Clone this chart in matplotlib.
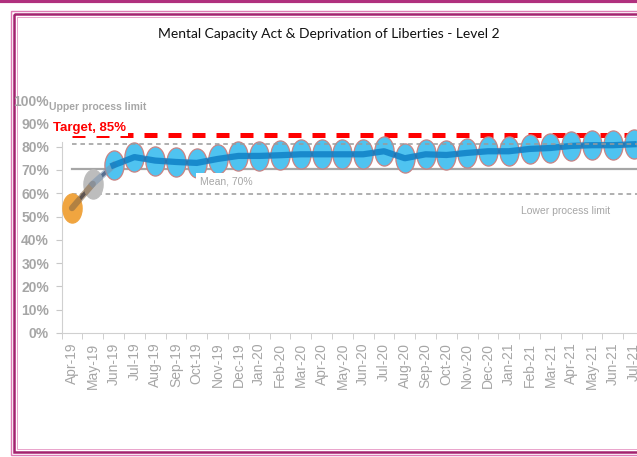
import numpy as np
import matplotlib
matplotlib.use("Agg")
import matplotlib.pyplot as plt
from matplotlib.path import Path
from matplotlib.patches import Rectangle

months = ["Apr-19", "May-19", "Jun-19", "Jul-19", "Aug-19", "Sep-19", "Oct-19",
          "Nov-19", "Dec-19", "Jan-20", "Feb-20", "Mar-20", "Apr-20", "May-20",
          "Jun-20", "Jul-20", "Aug-20", "Sep-20", "Oct-20", "Nov-20", "Dec-20",
          "Jan-21", "Feb-21", "Mar-21", "Apr-21", "May-21", "Jun-21", "Jul-21"]
compliance = [53.6, 64.0, 72.0, 75.5, 74.0, 73.4, 73.0, 74.7, 76.0, 76.0, 76.3,
              76.7, 76.7, 76.7, 76.7, 78.0, 75.0, 76.7, 76.4, 77.3, 78.0, 78.0,
              79.0, 79.4, 80.3, 80.6, 80.6, 81.0]
target = 85
mean = 70.4
upper_limit = 81
lower_limit = 59.6

x = np.arange(len(months))
y = np.array(compliance) / 100

W, H = 637, 457
fig = plt.figure(figsize=(W / 100, H / 100), dpi=100)

# frame around the chart, in pixel coords
frame = fig.add_axes([0, 0, 1, 1])
frame.set_xlim(0, W)
frame.set_ylim(H, 0)
frame.axis("off")
frame.add_patch(Rectangle((11, 11), 700, 444, fill=False, ec="#E07BB5", lw=1))
frame.add_patch(Rectangle((14, 14), 700, 438, fill=False, ec="#A3236F", lw=1.8))
frame.add_patch(Rectangle((17, 17), 700, 432, fill=False, ec="#E9A3CB", lw=0.7))
frame.plot([0, W], [1, 1], color="#B0307E", lw=3)

frame.text(W / 2 + 10, 34, "Mental Capacity Act & Deprivation of Liberties - Level 2",
           ha="center", va="center", fontsize=10,
           family=["Lato", "DejaVu Sans"], color="#111111")

# plot area: category spacing ~20.8 px, Apr-19 at x=72, 0% at y=333, 100% at y=100
left = (72 - 0.5 * 20.8) / W
width = 28 * 20.8 / W
ax = fig.add_axes([left, (H - 333) / H, width, 233 / H])
ax.set_xlim(-0.5, 27.5)
ax.set_ylim(0, 1)
ax.patch.set_alpha(0)

gray = "#A6A6A6"
font = ["Liberation Sans", "DejaVu Sans"]
ax.axhline(target / 100, xmin=0.5 / 28, color="#FF0000", lw=3.6, dashes=(2.6, 2.2), zorder=1)
ax.axhline(upper_limit / 100, xmin=0.5 / 28, color="#9A9A9A", lw=1.1, dashes=(3, 2.5), zorder=5)
ax.axhline(lower_limit / 100, xmin=0.5 / 28, color="#9A9A9A", lw=1.1, dashes=(3, 2.5), zorder=1)
ax.axhline(mean / 100, xmin=0.5 / 28, color=gray, lw=1.6, zorder=1)

# elliptical marker
circ = Path.unit_circle()
ell = Path(circ.vertices * np.array([0.66, 1.0]), circ.codes)

ax.plot(x, y, color="#1F3864", lw=2.6, zorder=2)
face = ["#F0A540", "#BDBDBD"] + ["#4FC3F0"] * (len(x) - 2)
edge = ["#F0A540", "#BDBDBD"] + ["#C98484"] * (len(x) - 2)
for i in range(len(x)):
    ax.plot(x[i], y[i], marker=ell, ms=21, mfc=face[i], mec=edge[i], mew=0.9,
            ls="none", zorder=3)
ax.plot(x[:2], y[:2], color="#8A6A45", lw=4.5, alpha=0.6, zorder=4, solid_capstyle="round")
ax.plot(x[1:3], y[1:3], color="#7D95B0", lw=4.5, alpha=0.6, zorder=4)
ax.plot(x[2:], y[2:], color="#0B7CC4", lw=4.5, alpha=0.8, zorder=4)

# axes styling
for s in ["top", "right"]:
    ax.spines[s].set_visible(False)
ax.spines["left"].set_color("#D0D0D0")
ax.spines["bottom"].set_color("#D0D0D0")
ax.spines["left"].set_bounds(0, 0.82)

yt = np.arange(0, 1.01, 0.1)
ax.set_yticks(yt)
ax.set_yticklabels([f"{int(round(v * 100))}%" for v in yt], family=font,
                   fontweight="bold", fontsize=10, color=gray)
ax.tick_params(axis="y", length=4, color="#C8C8C8", pad=5)
for t in ax.yaxis.get_major_ticks()[9:]:
    t.tick1line.set_visible(False)

ax.set_xticks(x)
ax.set_xticklabels(months, rotation=90, fontsize=10, color=gray, family=font)
ax.set_xticks(np.arange(-0.5, 27.6, 1), minor=True)
ax.tick_params(axis="x", which="major", length=0, pad=7)
ax.tick_params(axis="x", which="minor", length=4, color="#C8C8C8")

# annotations
ax.text(-1.1, 0.972, "Upper process limit", fontsize=7.5, color=gray, va="center",
        ha="left", family=font, fontweight="bold", clip_on=False)
ax.text(-0.92, 0.88, "Target, 85%", fontsize=9.5, color="#FF0000", fontweight="bold",
        va="center", ha="left", family=font, clip_on=False, zorder=6,
        bbox=dict(fc="white", ec="none", pad=1.5))
ax.text(6.15, 0.652, "Mean, 70%", fontsize=7.5, color=gray, va="center", ha="left",
        family=font, zorder=6, bbox=dict(fc="white", ec="none", pad=2.5))
ax.text(21.6, 0.524, "Lower process limit", fontsize=7.5, color=gray, va="center",
        ha="left", family=font)

fig.savefig("out.png", dpi=100)
